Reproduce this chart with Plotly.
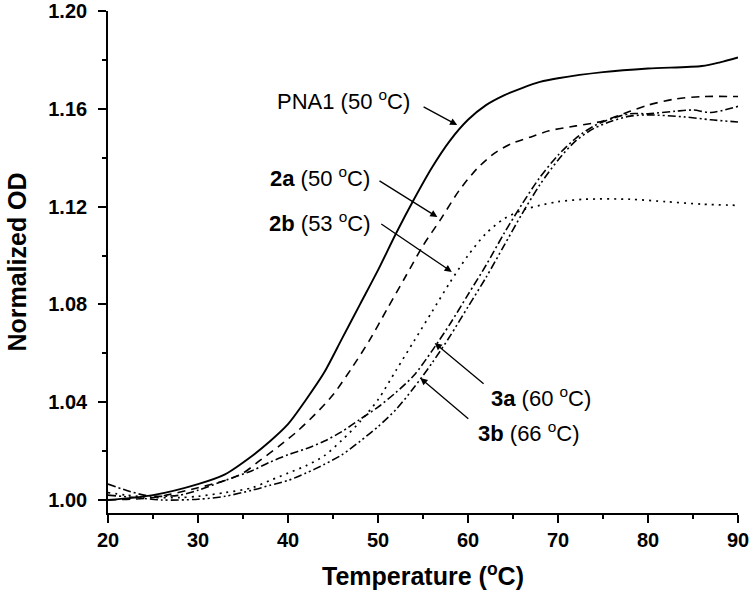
import plotly.graph_objects as go

# ---- data ----
pna1_t = [20, 25, 30, 33, 36, 38, 40, 42, 44, 46, 48, 50, 52, 54, 56, 58, 60, 62, 64, 66, 68, 70, 75, 80, 86, 88, 90]
pna1_od = [1.000, 1.002, 1.0065, 1.0105, 1.018, 1.024, 1.031, 1.041, 1.052, 1.066, 1.080, 1.094, 1.109, 1.123, 1.136,
           1.147, 1.1555, 1.1615, 1.1655, 1.1685, 1.171, 1.1725, 1.175, 1.1765, 1.1775, 1.179, 1.181]

a2_t = [20, 25, 30, 33, 35, 37, 39, 41, 43, 45, 47, 49, 51, 53, 55, 57, 59, 61, 63, 65, 67, 69, 72, 75, 78, 80, 83, 86, 90]
a2_od = [1.000, 1.001, 1.005, 1.008, 1.011, 1.0165, 1.022, 1.028, 1.035, 1.043, 1.0535, 1.065, 1.078, 1.091, 1.104,
         1.115, 1.1265, 1.1355, 1.142, 1.146, 1.1485, 1.151, 1.153, 1.155, 1.159, 1.1615, 1.164, 1.165, 1.165]

b2_t = [20, 22, 25, 28, 30, 33, 36, 38, 40, 42, 44, 46, 48, 50, 52, 54, 56, 58, 60, 62, 64, 66, 68, 70, 73, 78, 82, 86, 90]
b2_od = [1.003, 1.002, 1.001, 1.001, 1.0015, 1.003, 1.005, 1.008, 1.011, 1.014, 1.018, 1.0245, 1.032, 1.041, 1.053,
         1.065, 1.077, 1.089, 1.100, 1.109, 1.115, 1.1185, 1.1205, 1.122, 1.123, 1.123, 1.122, 1.121, 1.1205]

a3_t = [20, 22, 24, 26, 28, 30, 33, 36, 38, 40, 42, 44, 46, 48, 50, 52, 54, 56, 58, 60, 62, 64, 66, 68, 70, 72,
        74, 76, 78, 80, 83, 85, 87, 90]
a3_od = [1.0065, 1.004, 1.002, 1.0015, 1.002, 1.004, 1.008, 1.012, 1.0155, 1.0185, 1.021, 1.024, 1.028, 1.033, 1.038,
         1.044, 1.051, 1.061, 1.072, 1.084, 1.096, 1.109, 1.121, 1.132, 1.141, 1.148, 1.153, 1.156, 1.158, 1.158,
         1.159, 1.1595, 1.1585, 1.161]

b3_t = [20, 23, 26, 30, 33, 36, 38, 40, 42, 44, 46, 48, 50, 52, 54, 56, 58, 60, 62, 64, 66, 68, 70, 72, 74, 76,
        78, 80, 84, 87, 90]
b3_od = [1.002, 1.001, 1.000, 1.0003, 1.0015, 1.004, 1.006, 1.008, 1.011, 1.0145, 1.0185, 1.024, 1.030, 1.037, 1.046,
         1.056, 1.067, 1.079, 1.091, 1.104, 1.117, 1.129, 1.139, 1.147, 1.152, 1.155, 1.157, 1.1575, 1.1567,
         1.1555, 1.1546]

x_ticks = [20, 30, 40, 50, 60, 70, 80, 90]
y_ticks = [1.00, 1.04, 1.08, 1.12, 1.16, 1.20]
y_tick_labels = ["1.00", "1.04", "1.08", "1.12", "1.16", "1.20"]

FONT = "Liberation Sans, Arial, sans-serif"

fig = go.Figure()
series = [
    (pna1_t, pna1_od, "solid", 1.9),
    (a2_t, a2_od, "8px,6px", 1.6),
    (b2_t, b2_od, "2px,5px", 1.7),
    (a3_t, a3_od, "8px,3px,2px,3px", 1.6),
    (b3_t, b3_od, "8px,3px,2px,3px,2px,3px", 1.6),
]
for t, od, dash, w in series:
    fig.add_trace(go.Scatter(x=t, y=od, mode="lines",
                             line=dict(color="black", width=w, dash=dash, shape="spline", smoothing=0.8),
                             showlegend=False, hoverinfo="skip", cliponaxis=False))

# labels and arrows: (text, text x, text y, arrow tail x, tail y, tip x, tip y)
labels = [
    ("PNA1 (50 <sup>o</sup>C)", 46.2, 1.1636, 54.9, 1.1611, 58.8, 1.1534),
    ("<b>2a</b> (50 <sup>o</sup>C)", 43.6, 1.1321, 50.0, 1.1309, 56.6, 1.1157),
    ("<b>2b</b> (53 <sup>o</sup>C)", 43.6, 1.1137, 50.2, 1.1133, 58.2, 1.0933),
    ("<b>3a</b> (60 <sup>o</sup>C)", 68.1, 1.0421, 61.9, 1.0470, 56.3, 1.0642),
    ("<b>3b</b> (66 <sup>o</sup>C)", 66.8, 1.0278, 60.2, 1.0327, 54.7, 1.0499),
]
for txt, tx, ty, ax, ay, px, py in labels:
    fig.add_annotation(x=tx, y=ty, text=txt, showarrow=False, xanchor="center", yanchor="middle",
                       font=dict(family=FONT, size=22, color="black"))
    fig.add_annotation(x=px, y=py, ax=ax, ay=ay, axref="x", ayref="y", text="", showarrow=True,
                       arrowhead=2, arrowsize=1.1, arrowwidth=1.3, arrowcolor="black", standoff=0)

axis_common = dict(
    showline=True, linecolor="black", linewidth=1.6, mirror=False, automargin=False,
    ticks="outside", ticklen=8, tickwidth=1.5, tickcolor="black",
    showgrid=False, zeroline=False,
    tickfont=dict(family=FONT, size=20, color="black", weight="bold"),
)
fig.update_xaxes(range=[20, 90], tickvals=x_ticks,
                 minor=dict(ticks="outside", ticklen=4, tickwidth=1.5, tickcolor="black", dtick=5),
                 title=dict(text="<b>Temperature (<sup>o</sup>C)</b>", font=dict(family=FONT, size=25, color="black"), standoff=18),
                 **axis_common)
fig.update_yaxes(range=[0.99468, 1.20], tickvals=y_ticks, ticktext=y_tick_labels, ticklabelstandoff=7,
                 minor=dict(ticks="outside", ticklen=4, tickwidth=1.5, tickcolor="black", tickvals=[1.02, 1.06, 1.10, 1.14, 1.18]),
                 title=dict(text="<b>Normalized OD</b>", font=dict(family=FONT, size=25, color="black"), standoff=15),
                 **axis_common)

fig.update_layout(width=750, height=597, margin=dict(l=108, r=12, t=11, b=84, autoexpand=False),
                  plot_bgcolor="white", paper_bgcolor="white")
# remove the default page margin so the 750x597 figure fills the window exactly
fig.write_html("out.html", config={"displayModeBar": False},
               post_script="document.body.style.margin='0';document.body.style.overflow='hidden';")
